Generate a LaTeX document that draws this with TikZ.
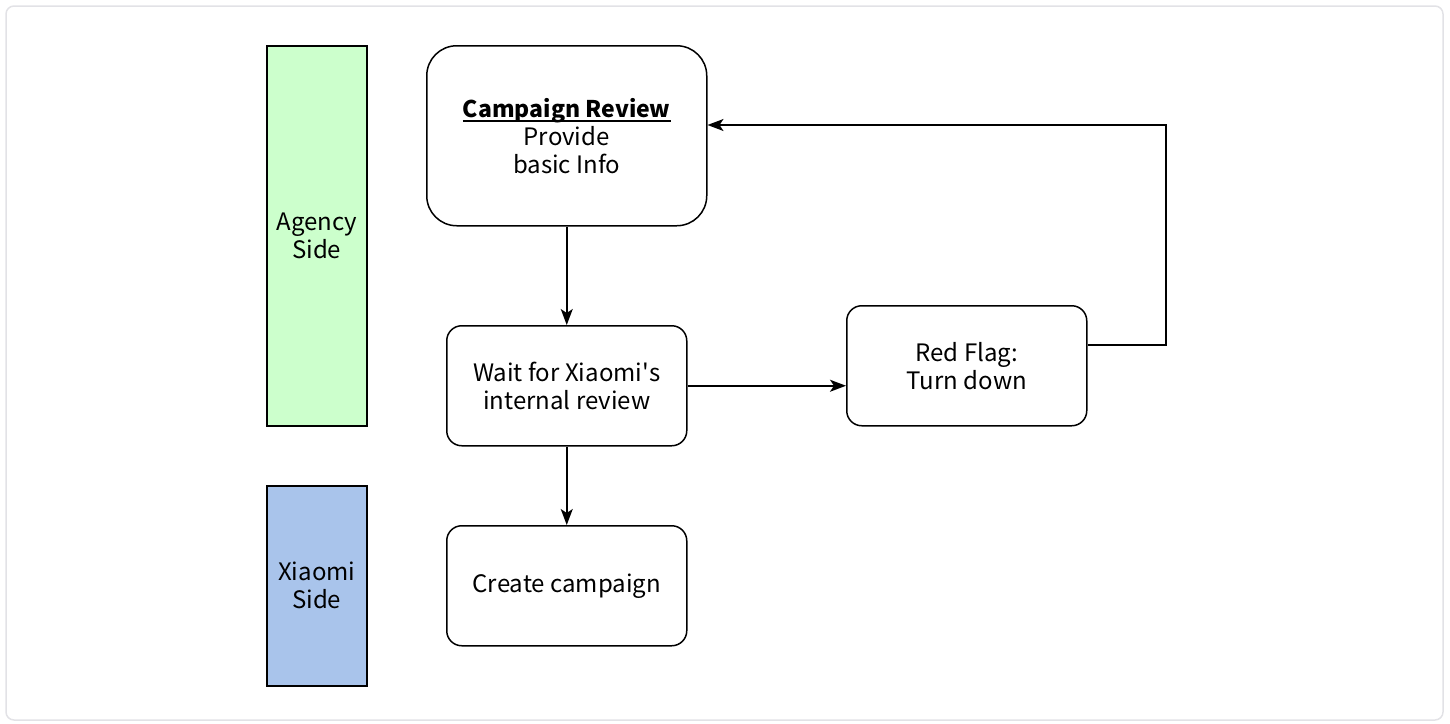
\documentclass[tikz,border=0pt]{standalone}
\usepackage{fontspec}
\setmainfont{Noto Sans CJK SC}
\newfontfamily\rawq{Noto Sans CJK SC}
\usetikzlibrary{arrows.meta}
\definecolor{agency}{HTML}{CCFFCC}
\definecolor{xiaomi}{HTML}{A9C4EB}
\definecolor{frame}{HTML}{E2E2E6}
\newcommand{\ulmine}[1]{\leavevmode\setbox0\hbox{#1}\rlap{\rule[-4.5pt]{\wd0}{1.7pt}}\box0}
\begin{document}
\begin{tikzpicture}[x=1pt,y=-1pt,
  every node/.style={font=\fontsize{24}{28}\selectfont, align=center},
  side/.style={draw, line width=1.5pt, minimum width=100pt, anchor=north west, inner sep=0pt},
  proc/.style={draw, line width=1.5pt, rounded corners=15pt, minimum width=240pt, minimum height=120pt, anchor=north west, inner sep=0pt},
  conn/.style={line width=1.5pt, -{Stealth[length=16pt,width=12pt,inset=4pt]}}]
\useasboundingbox (0,0) rectangle (1450,723);
\draw[frame, line width=1.5pt, rounded corners=8pt] (6,6) rectangle (1443,720);
\node[side, fill=agency, minimum height=380pt] (agency) at (266,45) {Agency\\Side};
\node[side, fill=xiaomi, minimum height=200pt] (xside) at (266,485) {Xiaomi\\Side};
\node[proc, rounded corners=30pt, minimum width=280pt, minimum height=180pt] (review) at (426,45) {\ulmine{\fontsize{23}{28}\selectfont\textbf{Campaign Review}}\\Provide\\basic Info};
\node[proc] (wait) at (446,325) {Wait for Xiaomi{\rawq '}s\\internal review};
\node[proc] (create) at (446,525) {Create campaign};
\node[proc] (flag) at (846,305) {Red Flag:\\Turn down};
\coordinate (c1) at (1166,345);
\coordinate (c2) at (1166,125);
\draw[conn] (review.south) -- (wait.north);
\draw[conn] (wait.south) -- (create.north);
\draw[conn] (wait.east) -- (flag.west |- wait.east);
\draw[conn] (flag.east |- c1) -- (c1) -- (c2) -- (review.east |- c2);
\end{tikzpicture}
\end{document}
